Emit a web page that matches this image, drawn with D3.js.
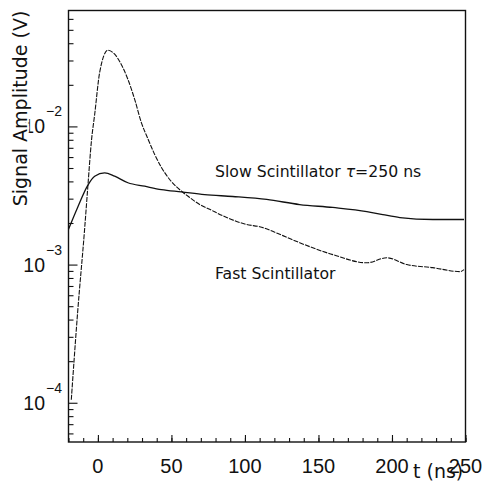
<!DOCTYPE html>
<html>
<head>
<meta charset="utf-8">
<script src="https://cdn.jsdelivr.net/npm/d3@7"></script>
<style>
  body { margin: 0; background: #fff; }
  svg { display: block; }
</style>
</head>
<body>
<div id="chart"></div>
<script>
// Fast scintillator pulse (t in ns, amplitude in V)
const fastTime = [-18.1, -13.8, -9.05, -7.0, -4.3, -2.2, 1.2, 6.8, 11.4, 15.9, 20.4, 25, 29.5, 34.2,
  38.6, 43.2, 48.8, 56.8, 62.4, 69.2, 76, 87.6, 101.2, 110, 125.8, 137.2, 159.8, 182.9, 196.5,
  210.1, 227.8, 246.2, 249];
const fastSignal = [1.05e-4, 4.5e-4, 1.8e-3, 3.49e-3, 8.05e-3, 0.0122, 0.0246, 0.0356, 0.0333, 0.0281,
  0.0219, 0.0157, 0.0107, 0.00805, 0.00627, 0.00505, 0.00413, 0.0034, 0.00306, 0.00272, 0.00251,
  0.00219, 0.00195, 0.00188, 0.00162, 0.00144, 0.00118, 0.00103, 0.00112, 0.00100, 0.00095,
  0.00089, 0.00092];

// Slow scintillator pulse, tau = 250 ns
const slowTime = [-20, -13.8, -7.0, -2.2, 4.6, 11.4, 20.4, 31.8, 43.2, 56.8, 72.6, 91.7, 114.8,
  137.2, 159.7, 182.9, 193.8, 205.4, 227.8, 249];
const slowSignal = [1.80e-3, 2.59e-3, 3.73e-3, 4.36e-3, 4.61e-3, 4.36e-3, 3.91e-3, 3.69e-3, 3.49e-3,
  3.36e-3, 3.21e-3, 3.11e-3, 2.96e-3, 2.72e-3, 2.59e-3, 2.42e-3, 2.30e-3, 2.19e-3, 2.12e-3, 2.12e-3];

const xMajorTicks = [0, 50, 100, 150, 200, 250];
const xMinorTicks = d3.range(-20, 251, 10);
const yMajorTicks = [1e-4, 1e-3, 1e-2];
const yTickExponents = ['\u22124', '\u22123', '\u22122'];

const width = 485, height = 484;
const frame = { left: 68.5, right: 465.5, top: 10.5, bottom: 442 };

const svg = d3.select('#chart')
  .append('svg')
  .attr('width', width)
  .attr('height', height);

const x = d3.scaleLinear().domain([-20, 250]).range([frame.left, frame.right]);
const y = d3.scaleLog().domain([5.2e-5, 0.069]).range([frame.bottom, frame.top]);

// minor log ticks 2..9 in each decade
const yMinorTicks = [];
[-5, -4, -3, -2].forEach(e => {
  for (let m = 2; m <= 9; m++) {
    const v = m * Math.pow(10, e);
    if (v >= y.domain()[0] && v <= y.domain()[1]) yMinorTicks.push(v);
  }
});

// x ticks (pointing into the plot)
function drawAxis(axis, transform) {
  const g = svg.append('g').attr('transform', transform).call(axis);
  g.select('.domain').remove();
  g.selectAll('line').attr('stroke', '#111').attr('stroke-width', 1.1);
  return g;
}
drawAxis(d3.axisBottom(x).tickValues(xMinorTicks).tickSize(-4).tickFormat(''), `translate(0,${frame.bottom})`);
drawAxis(d3.axisBottom(x).tickValues(xMajorTicks).tickSize(-7).tickFormat(''), `translate(0,${frame.bottom})`);
drawAxis(d3.axisLeft(y).tickValues(yMinorTicks).tickSize(-5).tickFormat(''), `translate(${frame.left},0)`);
drawAxis(d3.axisLeft(y).tickValues(yMajorTicks).tickSize(-9).tickFormat(''), `translate(${frame.left},0)`);

// frame
svg.append('rect')
  .attr('x', frame.left)
  .attr('y', frame.top)
  .attr('width', frame.right - frame.left)
  .attr('height', frame.bottom - frame.top)
  .attr('fill', 'none')
  .attr('stroke', '#111')
  .attr('stroke-width', 1.4);

// x tick labels
svg.append('g')
  .selectAll('text')
  .data(xMajorTicks)
  .enter()
  .append('text')
  .attr('x', d => x(d))
  .attr('y', 473)
  .attr('text-anchor', 'middle')
  .attr('font-family', 'Liberation Sans, Arial, sans-serif')
  .attr('font-size', 20)
  .attr('fill', '#111')
  .text(d => d);

// y tick labels 10^n
const yLab = svg.append('g')
  .selectAll('g')
  .data(yMajorTicks)
  .enter()
  .append('g')
  .attr('font-family', 'Liberation Sans, Arial, sans-serif')
  .attr('fill', '#111');
yLab.append('text')
  .attr('x', 45)
  .attr('y', d => y(d) + 7)
  .attr('text-anchor', 'end')
  .attr('font-size', 19.5)
  .text('10');
yLab.append('text')
  .attr('x', 46)
  .attr('y', d => y(d) - 10)
  .attr('font-size', 14)
  .text((d, i) => yTickExponents[i]);

// curves
const line = d3.line()
  .x(d => x(d[0]))
  .y(d => y(d[1]))
  .curve(d3.curveMonotoneX);

svg.append('path')
  .datum(fastTime.map((t, i) => [t, fastSignal[i]]))
  .attr('d', line)
  .attr('fill', 'none')
  .attr('stroke', '#111')
  .attr('stroke-width', 1.1)
  .attr('stroke-dasharray', '5,1.2');

svg.append('path')
  .datum(slowTime.map((t, i) => [t, slowSignal[i]]))
  .attr('d', line)
  .attr('fill', 'none')
  .attr('stroke', '#111')
  .attr('stroke-width', 1.3);

// curve labels
const slowLabel = svg.append('text')
  .attr('x', 215)
  .attr('y', 177)
  .attr('font-family', 'DejaVu Sans, sans-serif')
  .attr('font-size', 15.7)
  .attr('fill', '#111');
slowLabel.append('tspan').text('Slow Scintillator ');
slowLabel.append('tspan').attr('font-style', 'italic').text('\u03c4');
slowLabel.append('tspan').text('=250 ns');

svg.append('text')
  .attr('x', 215)
  .attr('y', 279)
  .attr('font-family', 'DejaVu Sans, sans-serif')
  .attr('font-size', 15.7)
  .attr('fill', '#111')
  .text('Fast Scintillator');

// axis titles
svg.append('text')
  .attr('x', 413)
  .attr('y', 478)
  .attr('font-family', 'DejaVu Sans, sans-serif')
  .attr('font-size', 19)
  .attr('fill', '#111')
  .text('t (ns)');

svg.append('text')
  .attr('transform', 'translate(27,108.5) rotate(-90)')
  .attr('text-anchor', 'middle')
  .attr('font-family', 'DejaVu Sans, sans-serif')
  .attr('font-size', 19)
  .attr('fill', '#111')
  .attr('stroke', '#fff')
  .attr('stroke-width', 4)
  .attr('paint-order', 'stroke')
  .text('Signal Amplitude (V)');
</script>
</body>
</html>
